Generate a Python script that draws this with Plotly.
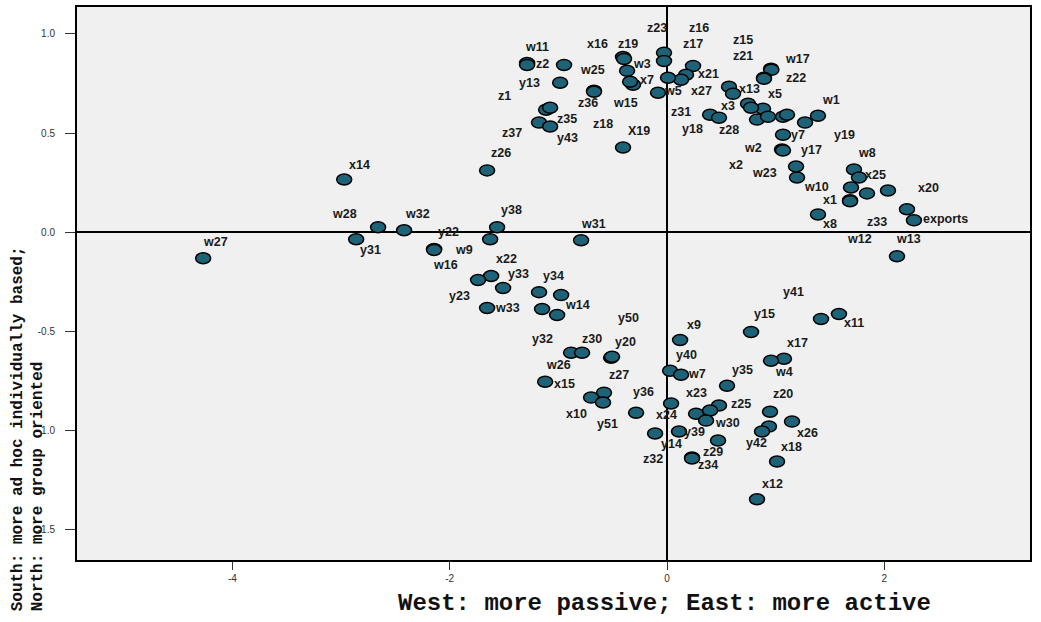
import plotly.graph_objects as go

names = ["w11", "z2", "y13", "w25", "x16", "z19", "w3", "x7", "w15", "z36", "z18", "z1", "z35", "z37", "y43",
         "X19", "z26", "x14", "z23", "z17", "z16", "x21", "x27", "w5", "z31", "y18", "z28", "x13", "x3", "z15",
         "w17", "z21", "z22", "x5", "w2", "x2", "y17", "y7", "w23", "w10", "w1", "y19", "", "", "",
         "", "", "", "w8", "x25", "x1", "w12", "z33", "", "x20", "exports", "x8", "w13", "w28", "w32",
         "y31", "w27", "y38", "w31", "y22", "w16", "w9", "x22", "y23", "y33", "y34", "", "w14", "y32", "w33",
         "w26", "z30", "y20", "y50", "x15", "z27", "x10", "y51", "y36", "y14", "y40", "w7", "x9", "x23", "x24",
         "y39", "z32", "z34", "y35", "z25", "", "w30", "z29", "z20", "x26", "", "y42", "x18", "x12", "x17",
         "w4", "y15", "y41", "x11"]

x_vals = [-1.288, -1.288, -0.984, -0.948, -0.405, -0.396, -0.368, -0.313, -0.340, -0.672, -0.672, -1.113, -1.076, -1.178, -1.076,
          -0.405, -1.656, -2.971, -0.028, -0.028, 0.239, 0.175, 0.129, -0.083, 0.009, 0.396, 0.478, 0.570, 0.607, 0.957,
          0.960, 0.892, 0.892, 0.883, 0.828, 1.058, 1.067, 1.067, 1.196, 1.693, 1.389, 1.270, 0.745, 0.773, 0.929,
          1.067, 1.104, 1.187, 1.720, 1.766, 1.684, 1.684, 1.840, 2.033, 2.208, 2.272, 1.389, 2.116, -2.659, -2.420,
          -2.861, -4.269, -1.564, -0.791, -2.144, -2.144, -1.628, -1.619, -1.739, -1.509, -1.178, -0.975, -1.012, -1.150, -1.656,
          -0.883, -0.782, -0.515, -0.506, -1.122, -0.580, -0.699, -0.589, -0.285, -0.110, 0.028, 0.129, 0.120, 0.037, 0.267,
          0.110, 0.230, 0.230, 0.552, 0.478, 0.396, 0.359, 0.469, 0.948, 1.150, 0.938, 0.874, 1.012, 0.828, 1.076,
          0.957, 0.773, 1.417, 1.582]

y_vals = [0.854, 0.844, 0.754, 0.844, 0.884, 0.874, 0.814, 0.744, 0.759, 0.714, 0.709, 0.618, 0.628, 0.553, 0.533,
          0.427, 0.312, 0.266, 0.905, 0.864, 0.839, 0.794, 0.769, 0.704, 0.779, 0.593, 0.578, 0.734, 0.698, 0.824,
          0.819, 0.779, 0.774, 0.623, 0.568, 0.417, 0.412, 0.492, 0.276, 0.226, 0.588, 0.553, 0.648, 0.628, 0.583,
          0.583, 0.593, 0.332, 0.317, 0.276, 0.161, 0.156, 0.196, 0.211, 0.116, 0.060, 0.090, -0.121, 0.025, 0.010,
          -0.035, -0.131, 0.025, -0.040, -0.085, -0.090, -0.035, -0.221, -0.241, -0.281, -0.302, -0.317, -0.417, -0.387, -0.382,
          -0.608, -0.608, -0.633, -0.628, -0.754, -0.809, -0.834, -0.859, -0.910, -1.015, -0.699, -0.719, -0.543, -0.864, -0.915,
          -1.005, -1.136, -1.141, -0.774, -0.874, -0.899, -0.950, -1.050, -0.905, -0.955, -0.980, -1.005, -1.156, -1.347, -0.638,
          -0.648, -0.503, -0.437, -0.412]

# label offsets from each point, in screen pixels (right, down)
label_dx = [10, 15, -31, 28, -26, 4, 15, 14, -5, -6, 9, -42, 17, -27, 17,
            16, 14, 15, -7, 29, 6, 22, 20, 15, 13, -18, 10, 20, -5, -28,
            26, -21, 32, 12, -4, -46, 28, 15, -33, -35, 13, 39, 0, 0, 0,
            0, 0, 0, 13, 17, -20, 9, 10, 0, 22, 32, 12, 12, -34, 13,
            14, 12, 14, 12, 14, 11, -26, 15, -19, 15, 14, 0, 20, 0, 20,
            -13, 10, 14, 16, 19, 15, -15, 4, 7, 16, 16, 16, 14, 25, -30,
            15, -39, 16, 15, 22, 0, 21, -5, 13, 15, 0, -6, 14, 15, 14,
            13, 13, -28, 15]
label_dy = [-16, -1, 0, 5, -13, -15, -7, -5, 21, 12, 32, -14, 11, 10, 11,
            -17, -17, -15, -25, -17, -38, -1, 11, -2, 34, 14, 12, 2, 12, -29,
            -11, -22, -1, -15, 28, 15, -1, 0, -5, 0, -16, 12, 0, 0, 0,
            0, 0, 0, -16, -3, 0, 38, 29, 0, -21, -1, 10, -17, -13, -16,
            11, -16, -17, -16, -17, 15, 11, -17, 16, -14, -16, 0, -10, 30, 0,
            12, -14, -16, -39, 2, -18, 16, 21, -21, 10, -16, -1, -15, -11, 1,
            0, 2, 7, -16, -2, 0, 2, 12, -18, 11, 0, 11, -14, -15, -16,
            11, -18, -27, 9]

x_ticks = [-4, -2, 0, 2]
y_ticks = [1.0, 0.5, 0.0, -0.5, -1.0, -1.5]
x_range = [-5.43, 3.34]
y_range = [-1.653, 1.136]
x_title = "West: more passive; East: more active"
y_title_lines = ["South: more ad hoc individually based;", "North: more group oriented"]

MARKER_FILL = "#1d6277"
LABEL_FONT = dict(family="Liberation Sans, Arial, sans-serif", size=12.5, color="#1a1a1a", weight="bold")
TICK_FONT = dict(family="Liberation Sans Narrow, Arial Narrow, Liberation Sans, sans-serif", size=10, color="#333333")
TITLE_FONT = dict(family="Liberation Mono, Courier New, monospace", color="#111111", weight="bold")

fig = go.Figure()

# invisible hover layer carrying the data
fig.add_trace(go.Scatter(
    x=x_vals, y=y_vals, mode="markers", hovertext=names, hoverinfo="text+x+y",
    marker=dict(size=14, opacity=0), showlegend=False,
))

shapes = []
for xv, yv in zip(x_vals, y_vals):
    shapes.append(dict(
        type="circle", xref="x", yref="y", xsizemode="pixel", ysizemode="pixel",
        xanchor=xv, yanchor=yv, x0=-7.5, x1=7.5, y0=-5.5, y1=5.5,
        fillcolor=MARKER_FILL, line=dict(color="black", width=1.5), layer="above",
    ))

annotations = []
for n, xv, yv, dx, dy in zip(names, x_vals, y_vals, label_dx, label_dy):
    if not n:
        continue
    annotations.append(dict(
        x=xv, y=yv, xref="x", yref="y", text=n, showarrow=False,
        xanchor="center", yanchor="middle", xshift=dx, yshift=-dy, font=LABEL_FONT,
    ))

annotations.append(dict(
    text=x_title, xref="paper", yref="paper", x=(664 - 77) / 953, y=(560 - 604) / 555,
    xanchor="center", yanchor="middle", showarrow=False, font=dict(TITLE_FONT, size=24),
))
annotations.append(dict(
    text="<br>".join(y_title_lines), xref="paper", yref="paper",
    x=(28 - 77) / 953, y=(560 - 614) / 555, xanchor="center", yanchor="bottom",
    textangle=-90, align="left", showarrow=False, font=dict(TITLE_FONT, size=16),
))

fig.update_layout(
    width=1041, height=622,
    margin=dict(l=77, r=11, t=5, b=62),
    paper_bgcolor="white", plot_bgcolor="#f0f0f0",
    shapes=shapes, annotations=annotations, showlegend=False,
)
fig.update_xaxes(
    range=x_range, tickvals=x_ticks, ticktext=[str(v) for v in x_ticks],
    ticks="outside", ticklen=8, tickcolor="#333333", tickfont=TICK_FONT,
    showgrid=False, zeroline=True, zerolinecolor="black", zerolinewidth=1.5,
    showline=True, mirror=True, linecolor="black", linewidth=2,
)
fig.update_yaxes(
    range=y_range, tickvals=y_ticks, ticktext=[f"{v:.1f}" for v in y_ticks],
    ticks="outside", ticklen=10, tickcolor="#333333", tickfont=TICK_FONT, ticklabelstandoff=8,
    showgrid=False, zeroline=True, zerolinecolor="black", zerolinewidth=1.5,
    showline=True, mirror=True, linecolor="black", linewidth=2,
)

fig.write_html(
    "out.html",
    config={"displayModeBar": False},
    post_script="document.body.style.margin='0';document.body.style.overflow='hidden';",
)
